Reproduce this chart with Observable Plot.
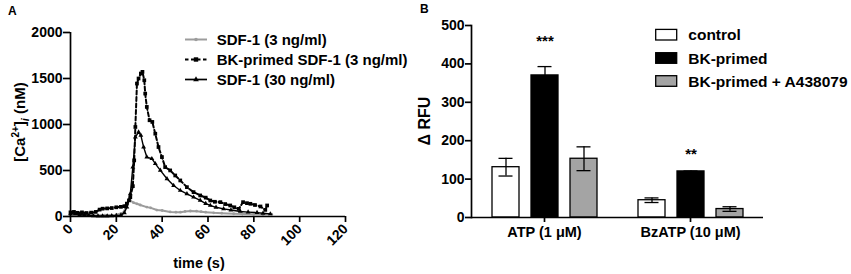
<!DOCTYPE html>
<html><head><meta charset="utf-8">
<script src="https://cdn.jsdelivr.net/npm/d3@7"></script>
<script src="https://cdn.jsdelivr.net/npm/@observablehq/plot@0.6"></script>
<style>
html,body{margin:0;padding:0;background:#fff;}
#wrap{display:flex;width:851px;height:274px;font-family:'Liberation Sans',Arial,Helvetica,sans-serif;font-weight:bold;}
#wrap svg{overflow:visible;display:block;}
</style></head><body><div id="wrap"></div>
<script>
// ---------- Panel A data ----------
const xTicksA = [0, 20, 40, 60, 80, 100, 120];
const yTicksA = [0, 500, 1000, 1500, 2000];
const seriesNamesA = ["SDF-1 (3 ng/ml)", "BK-primed SDF-1 (3 ng/ml)", "SDF-1 (30 ng/ml)"];

const sdf3Time  = [0,5,10,15,20,23,24.5,25.5,26.1,27.5,29,30.4,33.3,35,37.7,40,43.5,46,48,50,52.3,55,57,59,62.5,66,71.2,75,79.9,84,87.8];
const sdf3Value = [10,10,12,15,20,40,120,181,174,150,138,125,102,94,70,65,50,47,47,55,60,58,52,47,40,36,30,27,25,22,25];

const bkSdf3Time  = [0,1.5,3,5,7,9,11,12.7,14,16,18,20,22,23.5,24.6,25.5,26.1,27.2,27.8,28.3,29,29.7,30.7,31.4,32.2,32.6,33.3,34.5,35.7,37,38.4,39.9,41.3,43.5,45.7,47.9,50.8,53.7,56.6,59,61,63,65.4,67.5,69.7,71.5,73.4,75.3,77,78.5,80.5,82.9,85,85.8];
const bkSdf3Value = [45,50,40,45,38,42,50,75,85,88,92,100,105,112,140,175,210,330,610,973,1445,1500,1554,1572,1481,1336,1191,1046,1028,900,755,646,537,501,446,392,319,265,229,205,174,160,156,135,120,100,83,156,145,138,125,109,72,120];

const sdf30Time  = [0,2,4,6,8,10,12,14,16,18,20,22,23.5,24.6,26.1,27.2,28.3,29.7,30.7,31.9,33.3,35.5,37,39.2,42.1,45,47.9,50.8,53.7,56.6,59,61,63.5,66.8,70,74.1,77.5,81.4,84,87.2];
const sdf30Value = [30,28,22,18,12,8,5,5,5,8,10,15,40,102,247,537,864,918,882,755,646,628,574,501,410,337,283,247,210,175,140,120,100,83,70,55,48,42,35,28];

// ---------- Panel B data ----------
const groupsB = ["ATP (1 \u03bcM)", "BzATP (10 \u03bcM)"];
const treatmentsB = ["control", "BK-primed", "BK-primed + A438079"];
const controlMean = [131, 45],  controlSem = [23, 6];
const bkMean      = [370, 120], bkSem      = [23, 1];
const bkAMean     = [153, 22],  bkASem     = [31, 6];
const yTicksB = [0, 100, 200, 300, 400, 500];
const sigLabels = ["***", "**"];
const sigValue  = [460, 164];

// ---------- styles ----------
const FONT = "'Liberation Sans', Arial, Helvetica, sans-serif";
const grayLine = "#9c9c9c";
const fillsB = ["#ffffff", "#000000", "#a4a4a4"];
const plain = d => String(d);

const toRows = (t, v) => t.map((x, i) => ({t: x, v: v[i]}));
const rowsGray = toRows(sdf3Time, sdf3Value);
const rowsDash = toRows(bkSdf3Time, bkSdf3Value);
const rowsSolid = toRows(sdf30Time, sdf30Value);

const wrap = document.getElementById("wrap");

// ---------- Panel A ----------
const plotA = Plot.plot({
  width: 410, height: 274,
  marginLeft: 70, marginRight: 65, marginTop: 32, marginBottom: 58,
  style: {fontFamily: FONT, fontWeight: "bold", fontSize: "14px", color: "#000", background: "#fff", overflow: "visible"},
  x: {domain: [0, 120]},
  y: {domain: [0, 2000]},
  marks: [
    Plot.line(rowsGray, {x: "t", y: "v", stroke: grayLine, strokeWidth: 2}),
    Plot.dot(rowsGray, {x: "t", y: "v", r: 1.4, fill: grayLine, stroke: null}),
    Plot.line(rowsSolid, {x: "t", y: "v", stroke: "#000", strokeWidth: 1.4}),
    Plot.dot(rowsSolid, {x: "t", y: "v", symbol: "triangle", r: 1.8, fill: "#000", stroke: null}),
    Plot.line(rowsDash, {x: "t", y: "v", stroke: "#000", strokeWidth: 2, strokeDasharray: "4,2.5"}),
    Plot.dot(rowsDash, {x: "t", y: "v", symbol: "square", r: 2.1, fill: "#000", stroke: null}),
    Plot.ruleX([0], {stroke: "#000", strokeWidth: 1.7}),
    Plot.ruleY([0], {stroke: "#000", strokeWidth: 1.7}),
    Plot.axisY({ticks: yTicksA, tickFormat: plain, tickSize: 7, tickPadding: 1, strokeWidth: 1.7, label: null, fontSize: 14}),
    Plot.axisX({ticks: xTicksA, tickFormat: plain, tickSize: 6, tickPadding: 4, tickRotate: -45, strokeWidth: 1.7, label: null, fontSize: 14})
  ]
});
wrap.appendChild(plotA);

const sa = d3.select(plotA);
sa.append("text").attr("x", 8).attr("y", 15).attr("text-anchor", "start").attr("font-size", 12).text("A");
sa.append("text").attr("x", 199).attr("y", 268).attr("text-anchor", "middle").attr("font-size", 14.5).text("time (s)");
const yl = sa.append("text").attr("transform", "translate(25,122) rotate(-90)").attr("text-anchor", "middle").attr("font-size", 15);
yl.append("tspan").text("[Ca");
yl.append("tspan").attr("dy", -6).attr("font-size", 10).text("2+");
yl.append("tspan").attr("dy", 6).text("]");
yl.append("tspan").attr("dy", 4).attr("font-size", 11).attr("font-style", "italic").text("i");
yl.append("tspan").attr("dy", -4).text(" (nM)");

// legend A
const legA = sa.append("g").attr("text-anchor", "start");
const rowY = [39.5, 59.5, 79.5];
const lx0 = 185, lx1 = 207;
legA.append("line").attr("x1", lx0).attr("x2", lx1).attr("y1", rowY[0]).attr("y2", rowY[0]).attr("stroke", grayLine).attr("stroke-width", 2);
legA.append("circle").attr("cx", (lx0 + lx1) / 2).attr("cy", rowY[0]).attr("r", 1.8).attr("fill", grayLine);
legA.append("line").attr("x1", lx0).attr("x2", lx1).attr("y1", rowY[1]).attr("y2", rowY[1]).attr("stroke", "#000").attr("stroke-width", 2.2).attr("stroke-dasharray", "3.5,2.5");
legA.append("rect").attr("x", (lx0 + lx1) / 2 - 2.2).attr("y", rowY[1] - 2.2).attr("width", 4.4).attr("height", 4.4).attr("fill", "#000");
legA.append("line").attr("x1", lx0).attr("x2", lx1).attr("y1", rowY[2]).attr("y2", rowY[2]).attr("stroke", "#000").attr("stroke-width", 1.7);
legA.append("path").attr("d", d3.symbol(d3.symbolTriangle, 14)()).attr("transform", `translate(${(lx0 + lx1) / 2},${rowY[2]})`).attr("fill", "#000");
seriesNamesA.forEach((name, i) => {
  legA.append("text").attr("x", 216.7).attr("y", rowY[i] + 5.4).attr("font-size", 15).text(name);
});

// ---------- Panel B ----------
const rowsB = [];
const meansB = [controlMean, bkMean, bkAMean];
const semsB = [controlSem, bkSem, bkASem];
groupsB.forEach((g, gi) => {
  treatmentsB.forEach((tr, ti) => {
    const m = meansB[ti][gi], s = semsB[ti][gi];
    rowsB.push({group: g, treatment: tr, mean: m, lo: m - s, hi: m + s});
  });
});
const sigRows = groupsB.map((g, i) => ({group: g, treatment: treatmentsB[1], label: sigLabels[i], y: sigValue[i]}));

const plotB = Plot.plot({
  width: 441, height: 274,
  marginLeft: 60, marginRight: 88, marginTop: 25, marginBottom: 57,
  style: {fontFamily: FONT, fontWeight: "bold", fontSize: "14px", color: "#000", background: "#fff", overflow: "visible"},
  fx: {domain: groupsB, padding: 0},
  x: {domain: treatmentsB, paddingInner: 0.32, paddingOuter: 0.53, axis: null},
  y: {domain: [0, 500]},
  color: {domain: treatmentsB, range: fillsB},
  marks: [
    Plot.barY(rowsB, {fx: "group", x: "treatment", y: "mean", fill: "treatment", stroke: "#000", strokeWidth: 1.3}),
    Plot.ruleX(rowsB, {fx: "group", x: "treatment", y1: "lo", y2: "hi", stroke: "#000", strokeWidth: 1.3}),
    Plot.tickY(rowsB, {fx: "group", x: "treatment", y: "hi", stroke: "#000", strokeWidth: 1.3, insetLeft: 6.5, insetRight: 6.5}),
    Plot.tickY(rowsB, {fx: "group", x: "treatment", y: "lo", stroke: "#000", strokeWidth: 1.3, insetLeft: 6.5, insetRight: 6.5}),
    Plot.text(sigRows, {fx: "group", x: "treatment", y: "y", text: "label", fontSize: 15, fill: "#000"}),
    Plot.ruleY([0], {stroke: "#000", strokeWidth: 1.7}),
    Plot.frame({anchor: "left", facetAnchor: "left", stroke: "#000", strokeWidth: 1.7}),
    Plot.axisY({ticks: yTicksB, tickFormat: plain, tickSize: 6, tickPadding: 1, strokeWidth: 1.7, label: null, fontSize: 14}),
    Plot.axisFx({anchor: "bottom", tickSize: 5, tickPadding: 4, strokeWidth: 1.7, label: null, fontSize: 14.5})
  ]
});
wrap.appendChild(plotB);

const sb = d3.select(plotB);
sb.append("text").attr("x", 10).attr("y", 13).attr("text-anchor", "start").attr("font-size", 12).text("B");
sb.append("text").attr("transform", "translate(20,121) rotate(-90)").attr("text-anchor", "middle").attr("font-size", 16).text("\u0394 RFU");

const legB = sb.append("g").attr("text-anchor", "start");
const rowYB = [34.7, 58, 81];
treatmentsB.forEach((tr, i) => {
  legB.append("rect").attr("x", 245.7).attr("y", rowYB[i] - 5.3).attr("width", 21).attr("height", 10.6)
    .attr("fill", fillsB[i]).attr("stroke", "#000").attr("stroke-width", 1.3);
  legB.append("text").attr("x", 278.3).attr("y", rowYB[i] + 5.5).attr("font-size", 15.5).text(tr);
});
</script></body></html>
